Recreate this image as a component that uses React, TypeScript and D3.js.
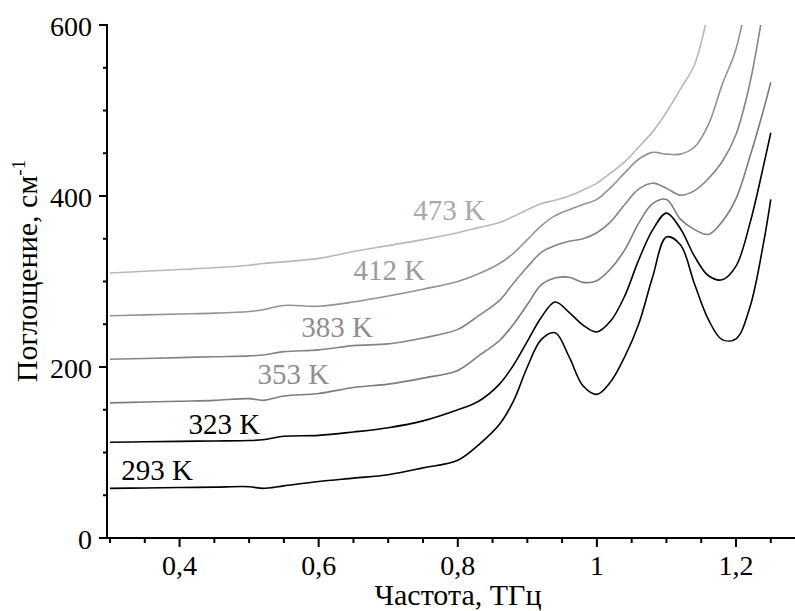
import React from "react";
import * as d3 from "d3";

const freq = [0.30,0.35,0.40,0.45,0.50,0.52,0.55,0.60,0.65,0.70,0.75,0.80,0.83,0.86,0.88,0.90,0.92,0.94,0.96,0.98,1.00,1.02,1.04,1.06,1.08,1.10,1.12,1.14,1.16,1.18,1.20,1.22,1.24,1.25];

const a293 = [58,58.5,59,59.5,60,58,61,66,70,74,82,91,109,133,160,200,232,240,212,178,168,183,212,250,305,352,343,298,256,232,233,270,347,396];
const a323 = [112,112.5,113,113.5,114,115,119,120,124,129,137,150,160,180,202,230,258,276,264,249,241,254,283,325,360,380,362,330,307,302,318,368,437,474];
const a353 = [158,159,160,161,163,161,166,169,176,180,187,196,213,231,250,273,296,304,305,299,301,315,337,368,391,396,373,361,355,370,397,446,502,533];
const a383 = [209,210,211,212,213,214,218,220,225,227,234,244,260,278,298,317,334,342,347,350,357,370,390,408,415,409,401,406,420,440,472,532,620,660];
const a412 = [260,261,262,263,265,267,272,271,276,283,291,300,309,321,333,349,365,377,384,390,396,410,427,443,451,449,449,457,483,530,572,650,null,null];
const a473 = [310,312,314,316,319,321,323,327,335,342,349,357,363,369,376,384,391,395,400,407,415,427,440,457,475,498,525,553,615,null,null,null,null,null];

const seriesNames = ["293 K","323 K","353 K","383 K","412 K","473 K"];
const seriesValues = [a293,a323,a353,a383,a412,a473];
const lineColors = ["#000000","#000000","#7c7c7c","#858585","#939393","#b8b8b8"];
const labelColors = ["#000000","#000000","#8e8e8e","#8e8e8e","#9a9a9a","#a8a8a8"];
// label anchor positions in data units (freq, value)
const labelFreq = [0.316, 0.413, 0.512, 0.575, 0.65, 0.736];
const labelVal = [68, 122, 180, 235, 302, 372];

const yMajor = [0,200,400,600];
const xMajor = [0.4,0.6,0.8,1.0,1.2];

export default function App() {
  const W = 795, H = 611;
  const x = d3.scaleLinear().domain([0.3, 1.2]).range([110, 736]);
  const y = d3.scaleLinear().domain([0, 600]).range([538, 25]);
  const axisX = 107;
  const font = "'Liberation Serif', 'Times New Roman', Times, Tinos, 'Noto Serif', 'DejaVu Serif', FreeSerif, serif";

  const line = d3.line<[number, number | null]>()
    .defined(d => d[1] != null)
    .x(d => x(d[0]))
    .y(d => y(d[1] as number))
    .curve(d3.curveCatmullRom.alpha(0.5));

  const yMinor = d3.range(0, 601, 50).filter(v => !yMajor.includes(v));
  const xMinor = d3.range(0, 20).map(i => +(0.3 + i * 0.05).toFixed(2)).filter(v => !xMajor.some(m => Math.abs(m - v) < 1e-6));
  const fmt = (v: number) => (Math.round(v * 10) / 10).toString().replace(".", ",");
  const ts = { fontFamily: font } as React.CSSProperties;

  return (
    <svg width={W} height={H} style={{ position: "absolute", left: 0, top: 0, background: "#fff", fontFamily: font }}>
      <defs>
        <clipPath id="plot">
          <rect x={axisX} y={y(600)} width={W - axisX} height={y(0) - y(600)} />
        </clipPath>
      </defs>
      <g clipPath="url(#plot)">
        {seriesValues.map((vals, i) => (
          <path key={i} d={line(freq.map((f, j) => [f, vals[j]] as [number, number | null])) || ""}
            fill="none" stroke={lineColors[i]} strokeWidth={1.6} strokeLinejoin="round" />
        ))}
      </g>
      {seriesNames.map((n, i) => (
        <text key={n} x={x(labelFreq[i])} y={y(labelVal[i])} fontSize={29} fill={labelColors[i]} style={ts}>{n}</text>
      ))}
      {/* axes */}
      <line x1={axisX} x2={axisX} y1={y(600) - 1} y2={y(0) + 1} stroke="#000" strokeWidth={2} />
      <line x1={axisX - 1} x2={W} y1={y(0)} y2={y(0)} stroke="#000" strokeWidth={2} />
      {yMajor.map(v => (
        <g key={"ym" + v}>
          <line x1={axisX - 8} x2={axisX} y1={y(v)} y2={y(v)} stroke="#000" strokeWidth={2} />
          <text x={92} y={y(v) + 11} textAnchor="end" fontSize={28} style={ts}>{v}</text>
        </g>
      ))}
      {yMinor.map(v => (
        <line key={"yn" + v} x1={axisX - 4} x2={axisX} y1={y(v)} y2={y(v)} stroke="#000" strokeWidth={2} />
      ))}
      {xMajor.map(v => (
        <g key={"xm" + v}>
          <line x1={x(v)} x2={x(v)} y1={y(0)} y2={y(0) + 9} stroke="#000" strokeWidth={2} />
          <text x={x(v)} y={575} textAnchor="middle" fontSize={28} style={ts}>{fmt(v)}</text>
        </g>
      ))}
      {xMinor.map(v => (
        <line key={"xn" + v} x1={x(v)} x2={x(v)} y1={y(0)} y2={y(0) + 5} stroke="#000" strokeWidth={2} />
      ))}
      <text x={458} y={605} textAnchor="middle" fontSize={30} style={ts}>Частота, ТГц</text>
      <text transform={`translate(37, 271) rotate(-90)`} textAnchor="middle" fontSize={30} style={ts}>
        Поглощение, см<tspan dy={-12} fontSize={19}>-1</tspan>
      </text>
    </svg>
  );
}
